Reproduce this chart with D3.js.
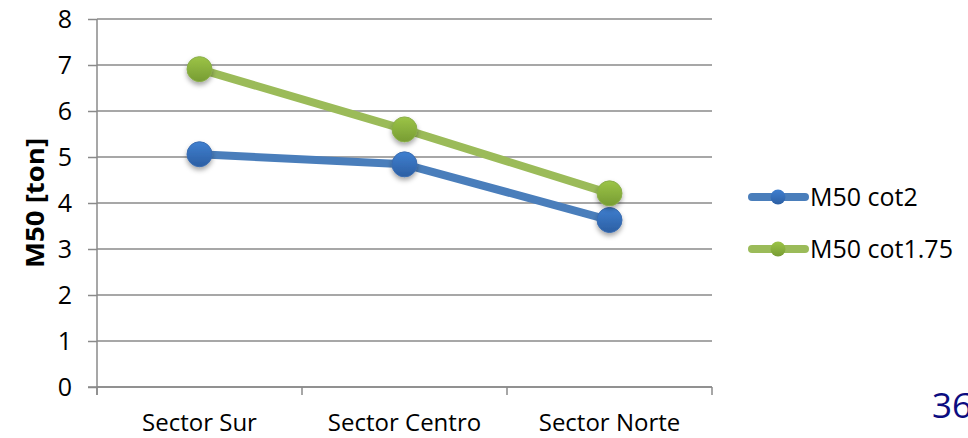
<!DOCTYPE html>
<html><head><meta charset="utf-8">
<script src="https://cdn.jsdelivr.net/npm/d3@7"></script>
<style>body{margin:0;background:#fff}svg{display:block}text{font-family:"Open Sans",Lato,sans-serif}</style>
</head><body>
<svg id="c" width="968" height="438"></svg>
<script>
const categories = ["Sector Sur", "Sector Centro", "Sector Norte"];
const cot2 = [5.06, 4.84, 3.63];
const cot175 = [6.91, 5.60, 4.21];
const seriesNames = ["M50 cot2", "M50 cot1.75"];
const yTicks = [0,1,2,3,4,5,6,7,8];

const svg = d3.select("#c");
const L = 97, R = 712, T = 19, B = 387;
const x = d3.scaleBand().domain(categories).range([L, R]);
const y = d3.scaleLinear().domain([0, 8]).range([B, T]);

const defs = svg.append("defs");
function grad(id, c1, c2){
  const g = defs.append("linearGradient").attr("id", id).attr("x1",0).attr("y1",0).attr("x2",0).attr("y2",1);
  g.append("stop").attr("offset","0%").attr("stop-color",c1);
  g.append("stop").attr("offset","100%").attr("stop-color",c2);
}
grad("gb", "#3f7fd0", "#2c5fa3");
grad("gg", "#9cc447", "#779c33");
const f = defs.append("filter").attr("id","sh").attr("x","-50%").attr("y","-50%").attr("width","200%").attr("height","200%");
f.append("feDropShadow").attr("dx",0).attr("dy",3).attr("stdDeviation",2.5).attr("flood-color","#000").attr("flood-opacity",0.35);

// gridlines
svg.append("g").selectAll("line").data(yTicks).join("line")
  .attr("x1", L).attr("x2", R).attr("y1", d=>y(d)).attr("y2", d=>y(d))
  .attr("stroke", "#8a8a8a").attr("stroke-width", 1.5);

// y axis
const ya = svg.append("g").attr("transform", `translate(${L},0)`)
  .call(d3.axisLeft(y).tickValues(yTicks).tickSize(9).tickPadding(16).tickFormat(d3.format("d")));
ya.select(".domain").attr("stroke","#8a8a8a").attr("stroke-width",1.5).attr("d", `M0,${T}V${B+8}`);
ya.selectAll(".tick line").attr("stroke","#8a8a8a").attr("stroke-width",1.5);
ya.selectAll(".tick text").attr("font-size", 25).attr("fill","#000").attr("font-family","'Open Sans',Lato,sans-serif");

// x axis
const xa = svg.append("g").attr("transform", `translate(0,${B})`);
xa.append("line").attr("x1", L-9).attr("x2", R).attr("stroke","#8a8a8a").attr("stroke-width",1.5);
const bounds = categories.map(c => x(c)).concat([R]);
xa.selectAll("line.t").data(bounds).join("line").attr("class","t")
  .attr("x1", d=>d).attr("x2", d=>d).attr("y1",0).attr("y2",8)
  .attr("stroke","#8a8a8a").attr("stroke-width",1.5);
xa.selectAll("text").data(categories).join("text")
  .attr("x", d=>x(d)+x.bandwidth()/2).attr("y", 44)
  .attr("text-anchor","middle").attr("font-size",24).attr("fill","#000").text(d=>d);

// y title
svg.append("text").attr("transform", "translate(44,203) rotate(-90)")
  .attr("text-anchor","middle").attr("font-size",25).attr("font-weight","bold").attr("fill","#000")
  .attr("textLength",130).attr("lengthAdjust","spacingAndGlyphs").text("M50 [ton]");

const cx = c => x(c) + x.bandwidth()/2;
const series = [
  {name: seriesNames[0], vals: cot2, line: "#4a7ebb", grad: "url(#gb)", edge:"#3a6cb0"},
  {name: seriesNames[1], vals: cot175, line: "#9bbb59", grad: "url(#gg)", edge:"#8aae4a"}
];
const lineGen = d3.line().x(d=>cx(d.c)).y(d=>y(d.v));
series.forEach(s => {
  const pts = categories.map((c,i)=>({c, v:s.vals[i]}));
  svg.append("path").datum(pts).attr("d", lineGen).attr("fill","none")
    .attr("stroke", s.line).attr("stroke-width", 8).attr("stroke-linejoin","round");
});
series.forEach(s => {
  const pts = categories.map((c,i)=>({c, v:s.vals[i]}));
  svg.append("g").selectAll("circle").data(pts).join("circle")
    .attr("cx", d=>cx(d.c)).attr("cy", d=>y(d.v)).attr("r", 12.5)
    .attr("fill", s.grad).attr("stroke", s.edge).attr("stroke-width",1).attr("filter","url(#sh)");
});

// legend
series.forEach((s,i) => {
  const ly = 197 + i*52;
  const g = svg.append("g");
  g.append("line").attr("x1",752).attr("x2",805).attr("y1",ly).attr("y2",ly)
    .attr("stroke", s.line).attr("stroke-width",8).attr("stroke-linecap","round");
  g.append("circle").attr("cx",778).attr("cy",ly).attr("r",7.5).attr("fill", s.grad);
  g.append("text").attr("x",810).attr("y",ly+9).attr("font-size",25).attr("fill","#000").text(s.name);
});

// page number (cut off at the right edge, as in the reference)
svg.append("text").attr("x",932).attr("y",418).attr("font-size",35).attr("fill","#0c0c80")
  .text("36");
</script>
</body></html>
